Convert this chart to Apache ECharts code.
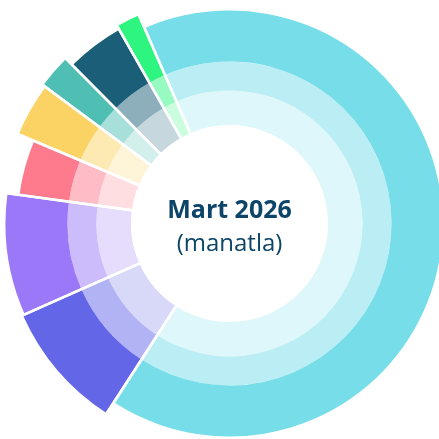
<!DOCTYPE html>
<html>
<head>
<meta charset="utf-8">
<script src="https://cdn.jsdelivr.net/npm/echarts@6/dist/echarts.min.js"></script>
<style>
html,body{margin:0;padding:0;background:#fff;}
#c{width:439px;height:439px;}
</style>
</head>
<body>
<div id="c"></div>
<script>
// ---- data ----
const categories = ['Kateqoriya 1','Kateqoriya 2','Kateqoriya 3','Kateqoriya 4','Kateqoriya 5','Kateqoriya 6','Kateqoriya 7','Kateqoriya 8'];
const values = [65.6, 9.2, 8.8, 4.2, 3.8, 2.4, 4.2, 1.7];
const titleText = 'Mart 2026';
const subtitleText = '(manatla)';

// ---- style ----
const colors = ['#76dde9','#6466e8','#9b78f8','#fd7b8c','#fad364','#4fbfb4','#1b5e78','#2ef580'];
const sliceOuterRadius = [213, 226, 224, 212, 229, 232, 223, 227];
const CX = 229.5, CY = 223.5;
const R0 = 98.5, R1 = 133, R2 = 162;
const START = 113.5;

function tint(hex, a) {
  const n = parseInt(hex.slice(1), 16);
  const r = (n >> 16) & 255, g = (n >> 8) & 255, b = n & 255;
  const m = c => Math.round(c * a + 255 * (1 - a));
  return 'rgb(' + m(r) + ',' + m(g) + ',' + m(b) + ')';
}

const base = {
  type: 'pie',
  center: [CX, CY],
  startAngle: START,
  clockwise: true,
  silent: true,
  label: { show: false },
  labelLine: { show: false },
  emphasis: { disabled: true },
  animation: false
};

const series = [];
series.push(Object.assign({}, base, {
  radius: [R0, R1],
  data: categories.map((n, i) => ({ name: n, value: values[i], itemStyle: { color: tint(colors[i], 0.25), borderWidth: 0 } }))
}));
series.push(Object.assign({}, base, {
  radius: [R1, R2],
  data: categories.map((n, i) => ({ name: n, value: values[i], itemStyle: { color: tint(colors[i], 0.5), borderWidth: 0 } }))
}));
categories.forEach((cn, k) => {
  series.push(Object.assign({}, base, {
    radius: [R2, sliceOuterRadius[k]],
    data: categories.map((n, i) => ({
      name: n, value: values[i],
      itemStyle: { color: i === k ? colors[i] : 'rgba(0,0,0,0)', borderWidth: 0 }
    }))
  }));
});
series.push(Object.assign({}, base, {
  radius: [R0 - 1.5, 245],
  z: 5,
  data: categories.map((n, i) => ({ name: n, value: values[i], itemStyle: { color: 'rgba(0,0,0,0)', borderColor: '#ffffff', borderWidth: 2.5 } }))
}));

const chart = echarts.init(document.getElementById('c'), null, { renderer: 'canvas' });
chart.setOption({
  backgroundColor: '#ffffff',
  animation: false,
  series: series,
  graphic: [
    { type: 'text', z: 10, style: { text: titleText, x: CX, y: 211, align: 'center', verticalAlign: 'middle', font: 'bold 25px "Open Sans"', fill: '#0c4568' } },
    { type: 'text', z: 10, style: { text: subtitleText, x: CX, y: 244, align: 'center', verticalAlign: 'middle', font: '24px "Open Sans"', fill: '#0c4568' } }
  ]
});
</script>
</body>
</html>
